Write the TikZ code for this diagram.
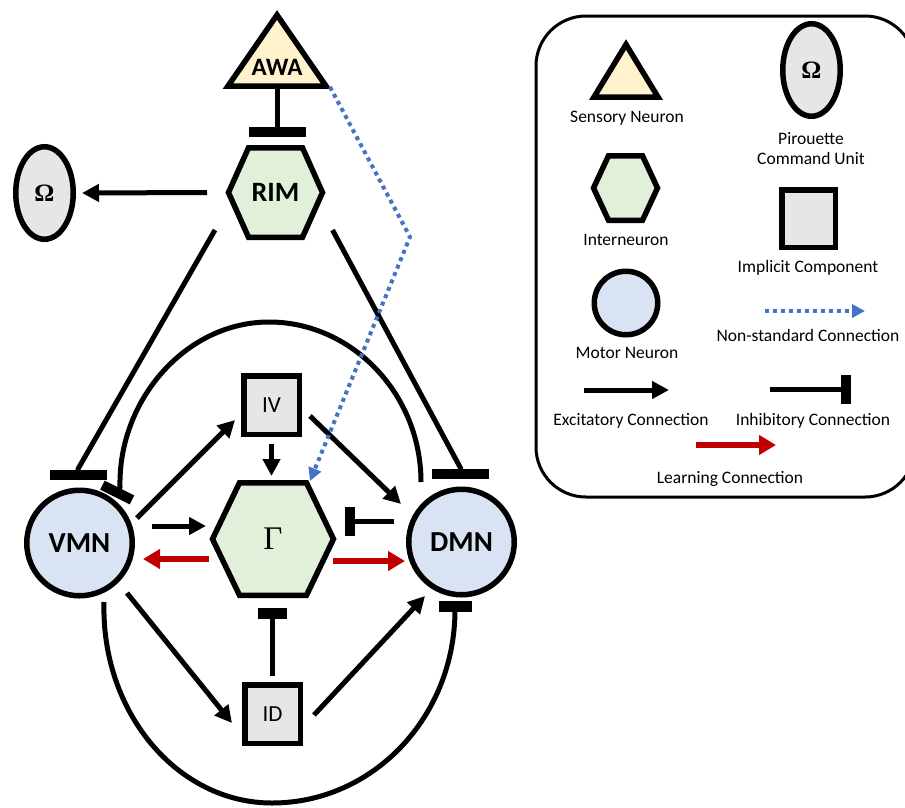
\documentclass[tikz,border=0pt]{standalone}
\usepackage{fontspec}
\setmainfont{Carlito}
\newfontfamily\grk{Liberation Serif}
\usetikzlibrary{arrows.meta,calc,backgrounds,shapes.geometric}
\definecolor{cY}{HTML}{FFF2CC}
\definecolor{cG}{HTML}{E2F0D9}
\definecolor{cB}{HTML}{DAE3F3}
\definecolor{cGr}{HTML}{E6E6E6}
\definecolor{lred}{HTML}{C00000}
\definecolor{nblue}{HTML}{4472C4}
\newcommand\hexpath[3]{\filldraw[fill=#3, line width=5.5pt] (#1.west) -- ([xshift=#2]#1.north west) -- ([xshift=-#2]#1.north east) -- (#1.east) -- ([xshift=-#2]#1.south east) -- ([xshift=#2]#1.south west) -- cycle;}
\begin{document}
\begin{tikzpicture}[x=1pt,y=-1pt,
  border/.style={line width=5.5pt, draw=black},
  conn/.style={line width=5pt},
  exc/.style={conn, -{Triangle[length=17pt,width=17pt]}},
  inh/.style n args={2}{conn, -{Rectangle[length=#1,width=#2]}},
  learn/.style={line width=6.5pt, draw=lred, -{Triangle[length=17pt,width=19pt,fill=lred]}},
  nonstd/.style={line width=4pt, draw=nblue, dash pattern=on 4pt off 4pt, -{Triangle[length=13pt,width=13pt,fill=nblue]}},
  lab/.style={font=\fontsize{17.5}{20}\selectfont, align=center, inner sep=0},
  hexnode/.style n args={2}{inner sep=0, outer sep=0, minimum width=#1, minimum height=#2},
  bigbold/.style={font=\bfseries\fontsize{#1}{#1}\selectfont},
  motor/.style={circle, border, fill=cB, inner sep=0, outer sep=0},
  implicit/.style={rectangle, border, fill=cGr, inner sep=0, outer sep=0, minimum width=55.5pt, minimum height=58.5pt, font=\fontsize{23}{23}\selectfont},
  pir/.style={ellipse, border, fill=cGr, inner sep=0, outer sep=0, minimum width=57.5pt, minimum height=92.5pt, font=\grk\bfseries\fontsize{25}{25}\selectfont}
]
\useasboundingbox (0,0) rectangle (905,807);

% ---------- main nodes ----------
\node[bigbold=25] (AWA) at (277,67) {AWA};
\node[hexnode={94pt}{89.5pt}, bigbold=28] (RIM) at (275.5,192.5) {RIM};
\node[pir] (Om) at (44.5,193) {Ω};
\node[motor, minimum size=105.5pt, bigbold=29] (VMN) at (79.5,543) {VMN};
\node[motor, minimum size=105.5pt, bigbold=29] (DMN) at (461.5,542) {DMN};
\node[hexnode={121pt}{112.5pt}, font=\grk\fontsize{33}{33}\selectfont] (G) at (273,539) {Γ};
\node[implicit] (IV) at (271.5,405) {IV};
\node[implicit] (ID) at (272.5,714) {ID};

% ---------- legend nodes ----------
\node[hexnode={64pt}{64.5pt}] (LI) at (625.5,188) {};
\node[pir] (LO) at (811.5,70) {Ω};
\node[implicit, minimum width=53.5pt, minimum height=57.5pt] (LQ) at (808.5,218.5) {};
\node[motor, minimum size=63.5pt] (LM) at (626,303) {};
\coordinate (LS) at (626,72);

\begin{scope}[on background layer]
\hexpath{RIM}{20pt}{cG}
\hexpath{G}{27pt}{cG}
\hexpath{LI}{15pt}{cG}
\filldraw[fill=cY, line width=5.5pt] ($(AWA)+(0,-52)$) -- ($(AWA)+(49,19)$) -- ($(AWA)+(-49,19)$) -- cycle;
\filldraw[fill=cY, line width=5.5pt] ($(LS)+(0,-27.5)$) -- ($(LS)+(32,25)$) -- ($(LS)+(-32,25)$) -- cycle;
\end{scope}

% ---------- connectors ----------
\draw[inh={10pt}{57pt}] ($(AWA)+(0,21)$) -- ($(RIM)+(1.5,-56)$);
\draw[exc] ($(RIM)+(-68.5,0)$) -- ($(Om)+(37.5,0)$);
\draw[inh={10pt}{57pt}] ($(RIM)+(-60.5,37.5)$) -- ($(VMN)+(-1.5,-74)$) -- ($(VMN)+(-1.5,-63.5)$);
\draw[inh={10pt}{57pt}] ($(RIM)+(57,37.5)$) -- ($(DMN)+(-1,-74)$) -- ($(DMN)+(-1,-63.5)$);
% top arc DMN -| VMN
\coordinate (topA) at (269,322);
\draw[inh={10pt}{33pt}] ($(DMN)+(-40.5,-60)$) .. controls (421,394) and (352,322) .. (topA)
   .. controls (186,322) and (118,400) .. (120,487) -- ++(-5,10);
% bottom arc VMN -| DMN
\coordinate (botA) at (272,803);
\draw[inh={11pt}{33pt}] ($(VMN)+(24.5,59)$) .. controls (101,712) and (177,803) .. (botA)
   .. controls (373,803) and (455,717) .. ($(DMN)+(-6.5,59)$);
\draw[exc] ($(VMN)+(57.5,-25)$) -- ($(IV)+(-36.5,15)$);
\draw[exc] ($(IV)+(38.5,11)$) -- ($(DMN)+(-60.5,-38)$);
\draw[exc] ($(IV)+(0,39)$) -- ($(G)+(-1.5,-63)$);
\draw[exc] ($(VMN)+(72.5,-17)$) -- ($(G)+(-67,-13)$);
\draw[learn] ($(G)+(-64,20)$) -- ($(VMN)+(63.5,16)$);
\draw[learn] ($(G)+(60,22)$) -- ($(DMN)+(-56.5,19)$);
\draw[inh={10pt}{29pt}] ($(DMN)+(-67.5,-21)$) -- ($(G)+(72,-18)$);
\draw[exc] ($(VMN)+(47.5,50)$) -- ($(ID)+(-40.5,9)$);
\draw[exc] ($(ID)+(41.5,1)$) -- ($(DMN)+(-36.5,54)$);
\draw[inh={11pt}{29pt}] ($(ID)+(-0.5,-38)$) -- ($(G)+(-1,69)$);
\coordinate (bend) at (410,237);
\draw[nonstd] ($(AWA)+(53,20)$) -- (bend) -- ($(G)+(37,-58)$);

% ---------- legend ----------
\draw[line width=3pt, rounded corners=50pt] (536,16) rectangle (915,497);
\node[lab] at (627,118) {Sensory Neuron};
\node[lab] at (811,149) {Pirouette\\Command Unit};
\node[lab] at (626,240) {Interneuron};
\node[lab] at (808,268) {Implicit Component};
\node[lab] at (627,353) {Motor Neuron};
\node[lab] at (808,335) {Non-standard Connection};
\node[lab] at (631,421) {Excitatory Connection};
\node[lab] at (813,421) {Inhibitory Connection};
\node[lab] at (730,479) {Learning Connection};
\coordinate (n1) at (765,311); \coordinate (n2) at (865,311);
\coordinate (e1) at (584,390); \coordinate (e2) at (669,390);
\coordinate (i1) at (770,389); \coordinate (i2) at (851,389);
\coordinate (l1) at (696,445); \coordinate (l2) at (776,445);
\draw[nonstd] (n1) -- (n2);
\draw[exc] (e1) -- (e2);
\draw[inh={10pt}{29pt}] (i1) -- (i2);
\draw[learn] (l1) -- (l2);
\end{tikzpicture}
\end{document}
